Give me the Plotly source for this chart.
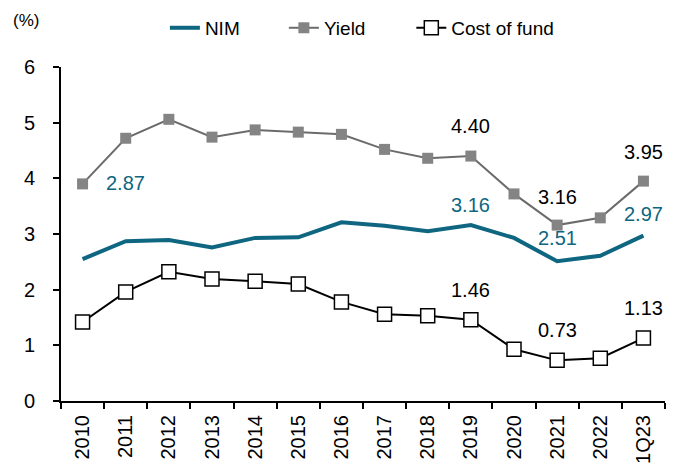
import plotly.graph_objects as go

categories = ["2010", "2011", "2012", "2013", "2014", "2015", "2016", "2017",
              "2018", "2019", "2020", "2021", "2022", "1Q23"]
nim = [2.55, 2.87, 2.89, 2.76, 2.93, 2.94, 3.21, 3.15, 3.05, 3.16, 2.93, 2.51, 2.61, 2.97]
yield_ = [3.90, 4.72, 5.06, 4.74, 4.87, 4.83, 4.79, 4.52, 4.36, 4.40, 3.72, 3.16, 3.29, 3.95]
cof = [1.42, 1.96, 2.32, 2.19, 2.15, 2.10, 1.78, 1.56, 1.53, 1.46, 0.93, 0.73, 0.77, 1.13]

# labelled points: (category index, pixel offset above point)
nim_labels = [(1, 58), (9, 20), (11, 23), (13, 22)]
yield_labels = [(9, 30), (11, 28), (13, 29)]
cof_labels = [(9, 30), (11, 30), (13, 30)]

TEAL = "#0e6680"
FONT = "Liberation Sans, Arial, sans-serif"
LBL = 20

fig = go.Figure()
fig.add_trace(go.Scatter(x=categories, y=nim, name="NIM", mode="lines", legend="legend",
                         line=dict(color=TEAL, width=4)))
fig.add_trace(go.Scatter(x=categories, y=yield_, name="Yield", mode="lines+markers",
                         legend="legend2",
                         line=dict(color="#6b6b6b", width=2),
                         marker=dict(symbol="square", size=11, color="#848484",
                                     line=dict(color="#848484", width=0))))
fig.add_trace(go.Scatter(x=categories, y=cof, name="Cost of fund", mode="lines+markers",
                         legend="legend3",
                         line=dict(color="#000000", width=2),
                         marker=dict(symbol="square", size=14, color="#ffffff",
                                     line=dict(color="#000000", width=1.5))))

ann = []
for series, labels, color in [(nim, nim_labels, TEAL), (yield_, yield_labels, "#000000"),
                              (cof, cof_labels, "#000000")]:
    for i, dy in labels:
        ann.append(dict(x=i, y=series[i], xref="x", yref="y", text=f"{series[i]:.2f}",
                        yshift=dy, showarrow=False,
                        font=dict(color=color, size=LBL, family=FONT)))
ann.append(dict(xref="paper", yref="paper", x=-0.083, y=1.14, xanchor="left",
                yanchor="middle", text="(%)", showarrow=False,
                font=dict(size=17, family=FONT, color="#000")))

leg = dict(orientation="h", xanchor="left", y=1.117, yanchor="middle",
           font=dict(size=19, family=FONT), bgcolor="rgba(0,0,0,0)")

fig.update_layout(
    width=672, height=460,
    margin=dict(l=53, r=15, t=59, b=67, autoexpand=False),
    paper_bgcolor="white", plot_bgcolor="white",
    font=dict(family=FONT, size=20, color="#000"),
    showlegend=True,
    legend=dict(leg, x=0.172),
    legend2=dict(leg, x=0.369),
    legend3=dict(leg, x=0.580),
    annotations=ann,
)
fig.update_xaxes(type="category", range=[-0.5, 13.5], showline=True, linecolor="#000",
                 linewidth=2, ticks="outside", tickson="boundaries", ticklen=6,
                 tickcolor="#000", tickwidth=1.5, tickangle=-90, showgrid=False,
                 ticklabelstandoff=4, tickfont=dict(size=20, family=FONT))
fig.update_yaxes(range=[0, 6], dtick=1, showline=True, linecolor="#000", linewidth=2,
                 ticks="outside", ticklen=6, tickcolor="#000", tickwidth=1.5,
                 showgrid=False, zeroline=False, ticklabelstandoff=14,
                 tickfont=dict(size=20, family=FONT))

fig.write_html("out.html")
